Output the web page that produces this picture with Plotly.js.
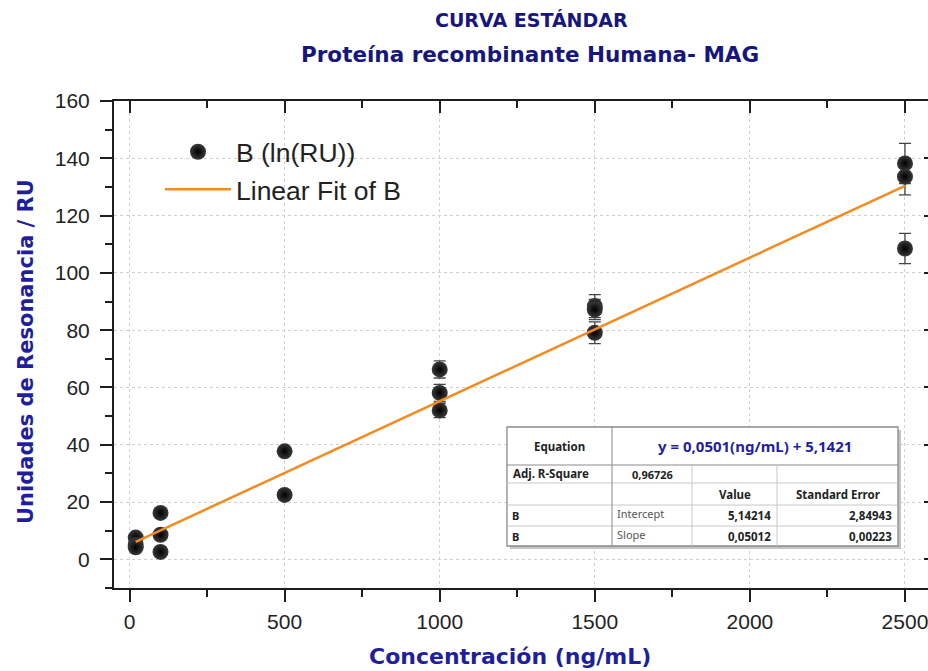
<!DOCTYPE html>
<html>
<head>
<meta charset="utf-8">
<script src="https://cdn.plot.ly/plotly-3.0.1.min.js"></script>
<style>
html,body{margin:0;padding:0;overflow:hidden;background:#fff;}
#chart{width:940px;height:671px;}
</style>
</head>
<body>
<div id="chart"></div>
<script>
// ---- data ----
const concentration = [20, 20, 20, 100, 100, 100, 500, 500, 1000, 1000, 1000, 1500, 1500, 1500, 2500, 2500, 2500];
const resonance     = [7.6, 5.0, 4.2, 16.2, 8.6, 2.6, 37.7, 22.5, 66.3, 58.1, 52.0, 88.4, 87.2, 79.1, 138.2, 133.6, 108.5];
const resonanceErr  = [1.0, 1.0, 1.0, 1.0, 1.0, 1.0, 1.0, 1.0, 3.0, 3.0, 2.5, 4.0, 3.5, 3.8, 7.0, 6.4, 5.3];
const fitX = [20, 2500];
const fitY = [6.1, 130.4];

const seriesName = "B (ln(RU))";
const fitName = "Linear Fit of B";

const xTicks = [0, 500, 1000, 1500, 2000, 2500];
const yTicks = [0, 20, 40, 60, 80, 100, 120, 140, 160];

const titleLine1 = "CURVA ESTÁNDAR";
const titleLine2 = "Proteína recombinante Humana- MAG";
const xTitle = "Concentración (ng/mL)";
const yTitle = "Unidades de Resonancia / RU";

const tableEquation = "y = 0,0501(ng/mL) + 5,1421";
const tableAdjR2 = "0,96726";
const tableHeaders = ["Value", "Standard Error"];
const tableRowSeries = ["B", "B"];
const tableRowParams = ["Intercept", "Slope"];
const tableValues = ["5,14214", "0,05012"];
const tableErrors = ["2,84943", "0,00223"];

// ---- layout helpers (pixel -> paper) ----
const P = {l: 114, t: 101, w: 822, h: 487};
const px = x => (x - P.l) / P.w;
const py = y => (P.t + P.h - y) / P.h;

const axisColor = "#1e1e1e";
const tickFont = {family: "Liberation Sans, Arial, sans-serif", size: 21, color: "#222"};
const blue = "#1f1f9e";
const navy = "#16167e";
const titleFont = "DejaVu Sans, Noto Sans, sans-serif";
const tableFont = "Noto Sans, DejaVu Sans, sans-serif";

const traces = [
  {
    x: concentration, y: resonance, type: "scatter", mode: "markers", name: seriesName,
    error_y: {type: "data", array: resonanceErr, visible: true, color: "#444", thickness: 1.3, width: 6},
    marker: {size: 16, color: "#3a3a3a", gradient: {type: "radial", color: "#000"}, line: {width: 0}},
    cliponaxis: false
  },
  {
    x: fitX, y: fitY, type: "scatter", mode: "lines", name: fitName,
    line: {color: "#f58a1f", width: 2.5}
  }
];

// table geometry (pixels)
const cx = [507, 612, 692, 777, 898];
const ry = [427, 465, 483, 505, 526, 546];
const shapes = [];
const rect = (x0, y0, x1, y1, opts) => Object.assign({type: "rect", xref: "paper", yref: "paper",
  x0: px(x0), x1: px(x1), y0: py(y1), y1: py(y0)}, opts);
const line = (x0, y0, x1, y1, c) => ({type: "line", xref: "paper", yref: "paper",
  x0: px(x0), x1: px(x1), y0: py(y0), y1: py(y1), line: {color: c || "#aaa", width: 1}});
shapes.push(rect(cx[0] + 3, ry[0] + 3, cx[4] + 3, ry[5] + 3, {fillcolor: "#c4c4c4", line: {width: 0}}));
shapes.push(rect(cx[0], ry[0], cx[4], ry[5], {fillcolor: "#fff", line: {color: "#8a8a8a", width: 1.3}}));
for (let i = 1; i < ry.length - 1; i++) shapes.push(line(cx[0], ry[i], cx[4], ry[i], i === 1 ? "#8a8a8a" : "#c8c8c8"));
shapes.push(line(cx[1], ry[0], cx[1], ry[5], "#8a8a8a"));
shapes.push(line(cx[2], ry[1], cx[2], ry[5], "#c8c8c8"));
shapes.push(line(cx[3], ry[1], cx[3], ry[5], "#c8c8c8"));

const tf = (fam, size, bold, color) => ({family: fam, size: size, color: color || "#222", weight: bold ? "bold" : "normal"});
const ann = (text, x, y, xanchor, font, extra) => Object.assign({text: text, xref: "paper", yref: "paper",
  x: px(x), y: py(y), xanchor: xanchor, yanchor: "middle", showarrow: false, font: font}, extra || {});

const annotations = [
  ann(titleLine1, 531, 20, "center", tf(titleFont, 19, true, navy)),
  ann(titleLine2, 530, 54, "center", tf(titleFont, 21.5, true, navy)),
  ann(xTitle, 510, 656, "center", tf(titleFont, 22, true, blue)),
  Object.assign(ann(yTitle, 26, 352, "center", tf(titleFont, 21, true, blue)), {textangle: -90}),
  ann("Equation", (cx[0] + cx[1]) / 2, 446, "center", tf(tableFont, 11.5, true)),
  ann(tableEquation, (cx[1] + cx[4]) / 2, 446, "center", tf(tableFont, 15, true, blue)),
  ann("Adj. R-Square", cx[0] + 4, 473, "left", tf(tableFont, 11.5, true)),
  ann(tableAdjR2, (cx[1] + cx[2]) / 2, 474, "center", tf(tableFont, 11, true)),
  ann(tableHeaders[0], (cx[2] + cx[3]) / 2, 494, "center", tf(tableFont, 11.5, true)),
  ann(tableHeaders[1], (cx[3] + cx[4]) / 2, 494, "center", tf(tableFont, 11.5, true))
];
for (let r = 0; r < 2; r++) {
  const yc = (ry[3 + r] + ry[4 + r]) / 2;
  annotations.push(ann(tableRowSeries[r], cx[0] + 3, yc, "left", tf(tableFont, 11, true)));
  annotations.push(ann(tableRowParams[r], cx[1] + 3, yc - 2, "left", tf(tableFont, 11, false, "#555")));
  annotations.push(ann(tableValues[r], cx[3] - 4, yc, "right", tf(tableFont, 11.5, true)));
  annotations.push(ann(tableErrors[r], cx[4] - 4, yc, "right", tf(tableFont, 11.5, true)));
}

const xRange = [-50, 2600];
const yRange = [-10, 160];

const layout = {
  width: 940, height: 671,
  margin: {l: P.l, r: 940 - P.l - P.w, t: P.t, b: 671 - P.t - P.h},
  paper_bgcolor: "#fff", plot_bgcolor: "#fff",
  showlegend: true,
  legend: {x: px(160), y: py(128), xanchor: "left", yanchor: "top", bgcolor: "rgba(0,0,0,0)",
           font: {family: "Liberation Sans, Arial, sans-serif", size: 26.5, color: "#222"}, tracegroupgap: 0, itemwidth: 66},
  xaxis: {
    range: xRange, tickvals: xTicks, ticktext: xTicks.map(String),
    showline: true, linecolor: axisColor, linewidth: 2, ticks: "outside", ticklen: 12, tickwidth: 2, tickcolor: axisColor,
    minor: {dtick: 250, tick0: 0, ticks: "outside", ticklen: 7, tickwidth: 2, tickcolor: axisColor, showgrid: false},
    showgrid: true, gridcolor: "#d0d0d0", griddash: "dot", gridwidth: 1, zeroline: false,
    tickfont: tickFont, ticklabelstandoff: 2
  },
  yaxis: {
    range: yRange, tickvals: yTicks, ticktext: yTicks.map(String),
    showline: true, linecolor: axisColor, linewidth: 2, ticks: "outside", ticklen: 12, tickwidth: 2, tickcolor: axisColor,
    minor: {dtick: 10, tick0: 0, ticks: "outside", ticklen: 7, tickwidth: 2, tickcolor: axisColor, showgrid: false},
    showgrid: true, gridcolor: "#d0d0d0", griddash: "dot", gridwidth: 1, zeroline: false,
    tickfont: tickFont, ticklabelstandoff: 6
  },
  xaxis2: {
    overlaying: "x", side: "top", range: xRange, tickvals: xTicks, showticklabels: false,
    showline: true, linecolor: axisColor, linewidth: 2, ticks: "inside", ticklen: 12, tickwidth: 2, tickcolor: axisColor,
    minor: {dtick: 250, tick0: 0, ticks: "inside", ticklen: 7, tickwidth: 2, tickcolor: axisColor},
    showgrid: false, zeroline: false
  },
  yaxis2: {
    overlaying: "y", side: "right", range: yRange, tickvals: yTicks, showticklabels: false,
    showline: true, linecolor: axisColor, linewidth: 2, ticks: "inside", ticklen: 12, tickwidth: 2, tickcolor: axisColor,
    minor: {dtick: 10, tick0: 0, ticks: "inside", ticklen: 7, tickwidth: 2, tickcolor: axisColor},
    showgrid: false, zeroline: false
  },
  shapes: shapes,
  annotations: annotations
};

// invisible trace to anchor the mirror axes
traces.push({x: xRange, y: yRange, xaxis: "x2", yaxis: "y2", type: "scatter", mode: "markers",
  marker: {opacity: 0}, showlegend: false, hoverinfo: "skip"});

Plotly.newPlot("chart", traces, layout, {displayModeBar: false, staticPlot: true});
</script>
</body>
</html>
